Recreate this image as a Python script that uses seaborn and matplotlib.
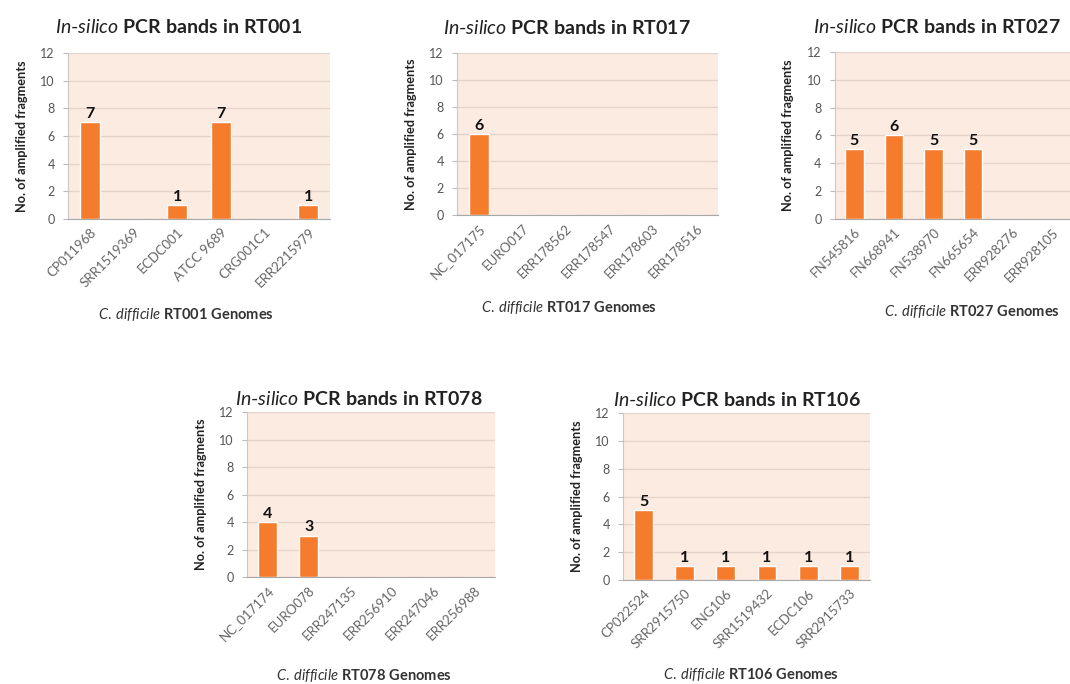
import matplotlib
matplotlib.use("Agg")
import matplotlib.pyplot as plt
import seaborn as sns
import pandas as pd

# ---- data ----
rt001_genomes = ["CP011968", "SRR1519369", "ECDC001", "ATCC 9689", "CRG001C1", "ERR2215979"]
rt001_bands = [7, 0, 1, 7, 0, 1]
rt017_genomes = ["NC_017175", "EURO017", "ERR178562", "ERR178547", "ERR178603", "ERR178516"]
rt017_bands = [6, 0, 0, 0, 0, 0]
rt027_genomes = ["FN545816", "FN668941", "FN538970", "FN665654", "ERR928276", "ERR928105"]
rt027_bands = [5, 6, 5, 5, 0, 0]
rt078_genomes = ["NC_017174", "EURO078", "ERR247135", "ERR256910", "ERR247046", "ERR256988"]
rt078_bands = [4, 3, 0, 0, 0, 0]
rt106_genomes = ["CP022524", "SRR2915750", "ENG106", "SRR1519432", "ECDC106", "SRR2915733"]
rt106_bands = [5, 1, 1, 1, 1, 1]
ribotypes = ["RT001", "RT017", "RT027", "RT078", "RT106"]
y_ticks = [0, 2, 4, 6, 8, 10, 12]

sns.set_style("white")
plt.rcParams["font.family"] = ["Lato", "DejaVu Sans"]
plt.rcParams["mathtext.fontset"] = "custom"
plt.rcParams["mathtext.rm"] = "Lato"
plt.rcParams["mathtext.it"] = "Lato:italic"
plt.rcParams["mathtext.bf"] = "Lato:bold"

BG = "#FCEBE0"
BAR = "#F47C2C"
GRID = "#E3D3CA"

fig = plt.figure(figsize=(10.7, 6.84), dpi=100)
fig.patch.set_facecolor("white")

# layout: axes rect, title x, title pad, xlabel coords
layout = [
    ([0.0636, 0.680, 0.245, 0.2427], 0.42, 14, (0.45, -0.578)),
    ([0.427, 0.6857, 0.244, 0.2368], 0.42, 14, (0.43, -0.574)),
    ([0.780, 0.680, 0.222, 0.244], 0.43, 14, (0.58, -0.557)),
    ([0.2308, 0.1564, 0.2318, 0.2412], 0.45, 5, (0.47, -0.594)),
    ([0.5822, 0.152, 0.2308, 0.244], 0.46, 5, (0.52, -0.569)),
]
data = [
    (rt001_genomes, rt001_bands),
    (rt017_genomes, rt017_bands),
    (rt027_genomes, rt027_bands),
    (rt078_genomes, rt078_bands),
    (rt106_genomes, rt106_bands),
]

for (pos, tx, tpad, xl), (genomes, bands), rt in zip(layout, data, ribotypes):
    ax = fig.add_axes(pos)
    df = pd.DataFrame({"genome": genomes, "bands": bands})
    sns.barplot(data=df, x="genome", y="bands", color=BAR, saturation=1,
                width=0.46, ax=ax, zorder=3)
    ax.set_facecolor(BG)
    ax.set_ylim(0, 12)
    ax.set_yticks(y_ticks)
    ax.yaxis.grid(True, color=GRID, linewidth=0.9, zorder=0)
    ax.set_axisbelow(True)
    for s in ["top", "right"]:
        ax.spines[s].set_visible(False)
    ax.spines["left"].set_color("#C8C8C8")
    ax.spines["bottom"].set_color("#A8A8A8")
    ax.tick_params(axis="y", labelsize=9, colors="#BBBBBB", length=3.5, width=0.8,
                   left=True, pad=6)
    ax.tick_params(axis="x", labelsize=9.5, length=0, pad=5)
    for lab in ax.get_yticklabels():
        lab.set_color("#555555")
    for lab in ax.get_xticklabels():
        lab.set_rotation(45)
        lab.set_ha("right")
        lab.set_rotation_mode("anchor")
        lab.set_color("#666666")
    for i, v in enumerate(bands):
        if v > 0:
            ax.text(i, v + 0.1, str(v), ha="center", va="bottom",
                    fontsize=11.5, fontweight="bold", color="#111111")
    ax.set_ylabel("No. of amplified fragments", fontsize=9.2, fontweight="bold",
                  color="#222222", labelpad=9)
    ax.set_xlabel(r"$\mathit{C.\:difficile}$ $\mathbf{" + rt + r"\ Genomes}$",
                  fontsize=10.5, color="#333333")
    ax.xaxis.label.set_va("center")
    ax.xaxis.set_label_coords(*xl)
    ax.set_title(r"$\mathit{In}$-$\mathit{silico}$ $\mathbf{PCR\ bands\ in\ " + rt + "}$",
                 fontsize=14, color="#222222", x=tx, pad=tpad)

fig.savefig("out.png", dpi=100, facecolor="white")
